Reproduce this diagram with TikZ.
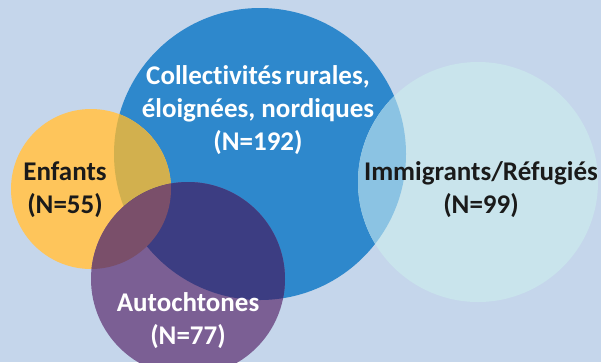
\documentclass[tikz,border=0pt]{standalone}
\usepackage{fontspec}
\setmainfont[Ligatures={NoCommon}]{Carlito}
\definecolor{bgc}{HTML}{C5D6EB}
\definecolor{bluec}{HTML}{2E88CC}
\definecolor{yelc}{HTML}{FEC55B}
\definecolor{purc}{HTML}{7B5F94}
\definecolor{lightc}{HTML}{C9E4EC}
\definecolor{yb}{HTML}{D2B04E}
\definecolor{pb}{HTML}{3C3D82}
\definecolor{py}{HTML}{7A4F6A}
\definecolor{lb}{HTML}{8BC3E3}
\definecolor{darktxt}{HTML}{1A1A1A}
\tikzset{
  lbl/.style={align=center, font=\fontsize{27}{33}\selectfont\bfseries, inner sep=0pt},
  lblw/.style={lbl, text=white},
  lbld/.style={lbl, text=darktxt}
}
\begin{document}
\begin{tikzpicture}[x=1pt,y=-1pt]
\fill[bgc] (0,0) rectangle (601,362);
\useasboundingbox (0,0) rectangle (601,362);
\def\cblue{(260,154) circle[radius=146pt]}
\def\cyel{(91,189) circle[radius=80pt]}
\def\cpur{(188,279) circle[radius=97pt]}
\def\clight{(478,182) circle[radius=120pt]}
\fill[bluec] \cblue;
\fill[yelc] \cyel;
\fill[purc] \cpur;
\fill[lightc] \clight;
\begin{scope}
  \clip \cblue;
  \fill[yb] \cyel;
\end{scope}
\begin{scope}
  \clip \cblue;
  \fill[pb] \cpur;
\end{scope}
\begin{scope}
  \clip \cyel;
  \fill[py] \cpur;
\end{scope}
\begin{scope}
  \clip \cblue;
  \fill[lb] \clight;
\end{scope}
\node[lblw] (coll) at (258,110) {Collectivités\hspace{-0.1em} rurales,\\éloignées, nordiques\\(N=192)};
\node[lbld] (enf) at (65,189.5) {Enfants\\(N=55)};
\node[lbld] (imm) at (481,189.5) {Immigrants/Réfugiés\\(N=99)};
\node[lblw] (aut) at (188,321) {Autochtones\\(N=77)};
\end{tikzpicture}
\end{document}
